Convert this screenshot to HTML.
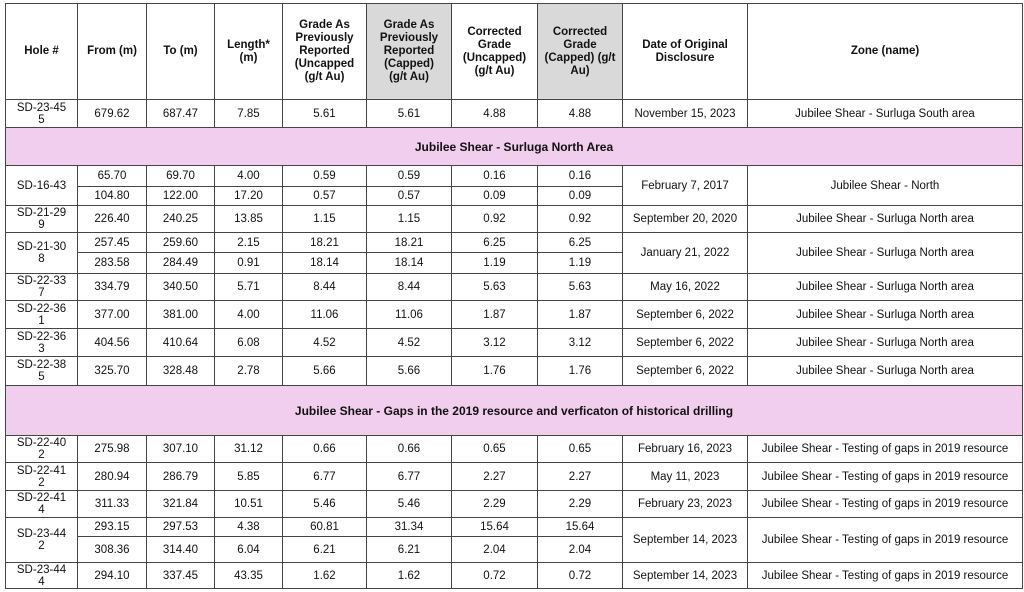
<!DOCTYPE html>
<html><head><meta charset="utf-8"><style>
html,body{margin:0;padding:0;background:#fff;width:1024px;height:592px;overflow:hidden}
table{position:absolute;left:5px;top:3px;border-collapse:collapse;table-layout:fixed;width:1017px;font-family:"Liberation Sans",Arial,sans-serif;font-size:11.5px;color:#111}
td{border:1px solid #444;text-align:center;vertical-align:middle;padding:0 1px;line-height:12px;overflow:hidden;white-space:nowrap}
th{border:1px solid #444;font-weight:bold;font-size:11.5px;line-height:13px;padding:0 1px;white-space:nowrap}
.g{background:#d9d9d9}
.p td{background:#f1cdee;font-weight:bold;font-size:12px}
</style></head><body>
<table>
<colgroup><col style="width:72px"><col style="width:69px"><col style="width:68px"><col style="width:68px"><col style="width:84px"><col style="width:85px"><col style="width:86px"><col style="width:85px"><col style="width:125px"><col style="width:275px"></colgroup>
<tr style="height:96px"><th>Hole #</th><th>From (m)</th><th>To (m)</th><th>Length*<br>(m)</th><th>Grade As<br>Previously<br>Reported<br>(Uncapped<br>(g/t Au)</th><th class="g">Grade As<br>Previously<br>Reported<br>(Capped)<br>(g/t Au)</th><th>Corrected<br>Grade<br>(Uncapped)<br>(g/t Au)</th><th class="g">Corrected<br>Grade<br>(Capped) (g/t<br>Au)</th><th>Date of Original<br>Disclosure</th><th>Zone (name)</th></tr>
<tr style="height:28px"><td>SD-23-45<br>5</td><td>679.62</td><td>687.47</td><td>7.85</td><td>5.61</td><td>5.61</td><td>4.88</td><td>4.88</td><td>November 15, 2023</td><td>Jubilee Shear - Surluga South area</td></tr>
<tr class="p" style="height:38px"><td colspan="10">Jubilee Shear - Surluga North Area</td></tr>
<tr style="height:21px"><td rowspan="2">SD-16-43</td><td>65.70</td><td>69.70</td><td>4.00</td><td>0.59</td><td>0.59</td><td>0.16</td><td>0.16</td><td rowspan="2">February 7, 2017</td><td rowspan="2">Jubilee Shear - North</td></tr>
<tr style="height:19px"><td>104.80</td><td>122.00</td><td>17.20</td><td>0.57</td><td>0.57</td><td>0.09</td><td>0.09</td></tr>
<tr style="height:27px"><td>SD-21-29<br>9</td><td>226.40</td><td>240.25</td><td>13.85</td><td>1.15</td><td>1.15</td><td>0.92</td><td>0.92</td><td>September 20, 2020</td><td>Jubilee Shear - Surluga North area</td></tr>
<tr style="height:20px"><td rowspan="2">SD-21-30<br>8</td><td>257.45</td><td>259.60</td><td>2.15</td><td>18.21</td><td>18.21</td><td>6.25</td><td>6.25</td><td rowspan="2">January 21, 2022</td><td rowspan="2">Jubilee Shear - Surluga North area</td></tr>
<tr style="height:21px"><td>283.58</td><td>284.49</td><td>0.91</td><td>18.14</td><td>18.14</td><td>1.19</td><td>1.19</td></tr>
<tr style="height:27px"><td>SD-22-33<br>7</td><td>334.79</td><td>340.50</td><td>5.71</td><td>8.44</td><td>8.44</td><td>5.63</td><td>5.63</td><td>May 16, 2022</td><td>Jubilee Shear - Surluga North area</td></tr>
<tr style="height:28px"><td>SD-22-36<br>1</td><td>377.00</td><td>381.00</td><td>4.00</td><td>11.06</td><td>11.06</td><td>1.87</td><td>1.87</td><td>September 6, 2022</td><td>Jubilee Shear - Surluga North area</td></tr>
<tr style="height:28px"><td>SD-22-36<br>3</td><td>404.56</td><td>410.64</td><td>6.08</td><td>4.52</td><td>4.52</td><td>3.12</td><td>3.12</td><td>September 6, 2022</td><td>Jubilee Shear - Surluga North area</td></tr>
<tr style="height:29px"><td>SD-22-38<br>5</td><td>325.70</td><td>328.48</td><td>2.78</td><td>5.66</td><td>5.66</td><td>1.76</td><td>1.76</td><td>September 6, 2022</td><td>Jubilee Shear - Surluga North area</td></tr>
<tr class="p" style="height:50px"><td colspan="10">Jubilee Shear - Gaps in the 2019 resource and verficaton of historical drilling</td></tr>
<tr style="height:27px"><td>SD-22-40<br>2</td><td>275.98</td><td>307.10</td><td>31.12</td><td>0.66</td><td>0.66</td><td>0.65</td><td>0.65</td><td>February 16, 2023</td><td>Jubilee Shear - Testing of gaps in 2019 resource</td></tr>
<tr style="height:28px"><td>SD-22-41<br>2</td><td>280.94</td><td>286.79</td><td>5.85</td><td>6.77</td><td>6.77</td><td>2.27</td><td>2.27</td><td>May 11, 2023</td><td>Jubilee Shear - Testing of gaps in 2019 resource</td></tr>
<tr style="height:27px"><td>SD-22-41<br>4</td><td>311.33</td><td>321.84</td><td>10.51</td><td>5.46</td><td>5.46</td><td>2.29</td><td>2.29</td><td>February 23, 2023</td><td>Jubilee Shear - Testing of gaps in 2019 resource</td></tr>
<tr style="height:19px"><td rowspan="2">SD-23-44<br>2</td><td>293.15</td><td>297.53</td><td>4.38</td><td>60.81</td><td>31.34</td><td>15.64</td><td>15.64</td><td rowspan="2">September 14, 2023</td><td rowspan="2">Jubilee Shear - Testing of gaps in 2019 resource</td></tr>
<tr style="height:26px"><td>308.36</td><td>314.40</td><td>6.04</td><td>6.21</td><td>6.21</td><td>2.04</td><td>2.04</td></tr>
<tr style="height:26px"><td>SD-23-44<br>4</td><td>294.10</td><td>337.45</td><td>43.35</td><td>1.62</td><td>1.62</td><td>0.72</td><td>0.72</td><td>September 14, 2023</td><td>Jubilee Shear - Testing of gaps in 2019 resource</td></tr>
</table>
</body></html>
